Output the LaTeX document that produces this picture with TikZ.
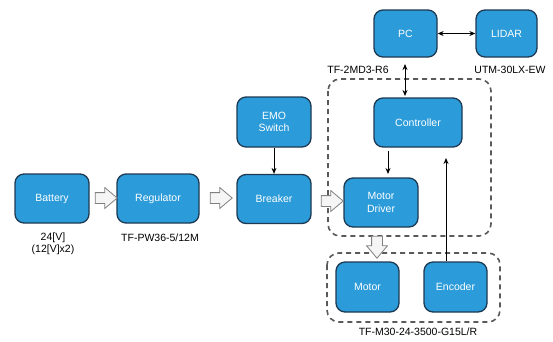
\documentclass[tikz,border=0pt]{standalone}
\usepackage{fontspec}
\setmainfont{Liberation Sans}
\usetikzlibrary{shapes.arrows,arrows.meta}
\definecolor{boxblue}{HTML}{2B9BD9}
\definecolor{boxedge}{HTML}{1E3A52}
\definecolor{dashgray}{HTML}{5A5A5A}
\begin{document}
\begin{tikzpicture}[x=1pt,y=-1pt,
  blk/.style={draw=boxedge, line width=1.3pt, fill=boxblue, rounded corners=9pt,
    text=white, font=\fontsize{10.5}{12.5}\selectfont, align=center, inner sep=0pt},
  lbl/.style={font=\fontsize{10.5}{12}\selectfont, inner sep=0pt, align=center},
  group/.style={draw=dashgray, line width=1.6pt, dash pattern=on 5pt off 4pt, rounded corners=12pt},
  fat/.style={single arrow, draw=gray, fill=gray!8, line width=0.8pt,
    minimum height=22pt, text height=5pt, text depth=5pt, text width=0pt,
    single arrow head extend=5pt, single arrow tip angle=80, inner sep=0pt},
  sig/.style={-{Stealth[length=6pt,width=5pt]}, line width=0.9pt},
  sigboth/.style={{Stealth[length=6pt,width=5pt]}-{Stealth[length=6pt,width=5pt]}, line width=0.9pt}]
\useasboundingbox (0,0) rectangle (553,341);

% functional groups
\draw[group] (328,79) rectangle (491,236);
\draw[group] (327,253) rectangle (500,322);

% blocks
\node[blk, minimum width=74pt, minimum height=49pt] (bat) at (52,198.5) {Battery};
\node[blk, minimum width=82pt, minimum height=49pt] (reg) at (158,198.5) {Regulator};
\node[blk, minimum width=74pt, minimum height=49pt] (brk) at (274,199) {Breaker};
\node[blk, minimum width=74pt, minimum height=50pt] (emo) at (274,122) {EMO\\Switch};
\node[blk, minimum width=63pt, minimum height=47pt] (pc) at (405.5,33.5) {PC};
\node[blk, minimum width=61pt, minimum height=47pt] (lidar) at (506.5,33.5) {LIDAR};
\node[blk, minimum width=88pt, minimum height=49pt] (ctl) at (418,122.5) {Controller};
\node[blk, minimum width=74pt, minimum height=49pt] (drv) at (381,202.5) {Motor\\Driver};
\node[blk, minimum width=63pt, minimum height=50pt] (mot) at (367.5,287) {Motor};
\node[blk, minimum width=63pt, minimum height=50pt] (enc) at (455.5,287) {Encoder};

% part numbers
\node[lbl] (batl1) at (53,238) {24[V]};
\node[lbl] (batl2) at (53,250) {(12[V]x2)};
\node[lbl] (regl) at (160,238) {TF-PW36-5/12M};
\node[lbl] (pcl) at (358,70) {TF-2MD3-R6};
\node[lbl] (lidarl) at (510,70) {UTM-30LX-EW};
\node[lbl] (motl) at (418,332) {TF-M30-24-3500-G15L/R};

% power flow
\node[fat] (p1) at (103,198) {};
\node[fat] (p2) at (218,198) {};
\node[fat] (p3) at (329,201) {};
\node[fat, rotate=-90] (p4) at (377,244) {};

% signals
\draw[sig] (emo) -- (brk);
\draw[sigboth] (pc) -- (lidar);
\draw[sigboth] (405,64) -- (405,96);
\draw[sig] (388,151) -- (388,174);
\draw[sig] (enc.north -| 446,0) -- (446,158);
\end{tikzpicture}
\end{document}
